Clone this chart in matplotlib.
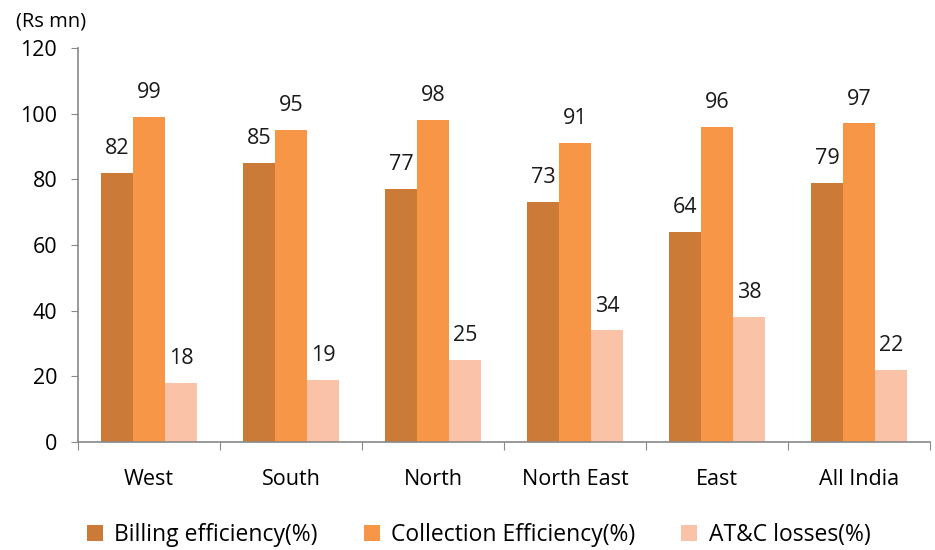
import numpy as np
import matplotlib.pyplot as plt

plt.rcParams['font.family'] = ['Open Sans', 'DejaVu Sans']

regions = ['West', 'South', 'North', 'North East', 'East', 'All India']
billing = [82, 85, 77, 73, 64, 79]
collection = [99, 95, 98, 91, 96, 97]
atc_losses = [18, 19, 25, 34, 38, 22]
series_names = ['Billing efficiency(%)', 'Collection Efficiency(%)', 'AT&C losses(%)']
colors = ['#CB7A38', '#F79646', '#FAC3A8']

fig = plt.figure(figsize=(9.35, 5.5), dpi=100)
ax = fig.add_axes([0.0834, 0.196, 0.9116, 0.717])

x = np.arange(len(regions))
w = 0.225
for i, (vals, name, col) in enumerate(zip([billing, collection, atc_losses], series_names, colors)):
    pos = x + (i - 1) * w
    bars = ax.bar(pos, vals, width=w, color=col, label=name)
    for xp, v in zip(pos, vals):
        ax.annotate(str(v), (xp, v), xytext=(0, 10), textcoords='offset points',
                    ha='center', va='bottom', fontsize=15.5, color='#1a1a1a')

ax.set_xlim(-0.5, len(regions) - 0.5)
ax.set_ylim(0, 120)
ax.set_yticks(range(0, 121, 20))
ax.set_xticks(np.arange(-0.5, len(regions), 1.0))
ax.set_xticklabels([])
ax.set_xticks(x, minor=True)
ax.set_xticklabels(regions, minor=True)
ax.tick_params(axis='x', which='minor', length=0, pad=19, labelsize=15.5)
ax.tick_params(axis='x', which='major', length=6, color='#888888', direction='out')
ax.tick_params(axis='y', length=5, color='#888888', labelsize=15.5, pad=10)
for s in ['top', 'right']:
    ax.spines[s].set_visible(False)
for s in ['left', 'bottom']:
    ax.spines[s].set_color('#888888')
    ax.spines[s].set_linewidth(1.2)

fig.text(0.017, 0.96, '(Rs mn)', fontsize=14.5, ha='left', va='center')

ax.legend(loc='lower center', bbox_to_anchor=(0.47, -0.318), ncol=3, frameon=False,
          fontsize=16.5, handlelength=0.7, handleheight=0.7, handletextpad=0.5, columnspacing=2.0)

fig.savefig('out.png')
